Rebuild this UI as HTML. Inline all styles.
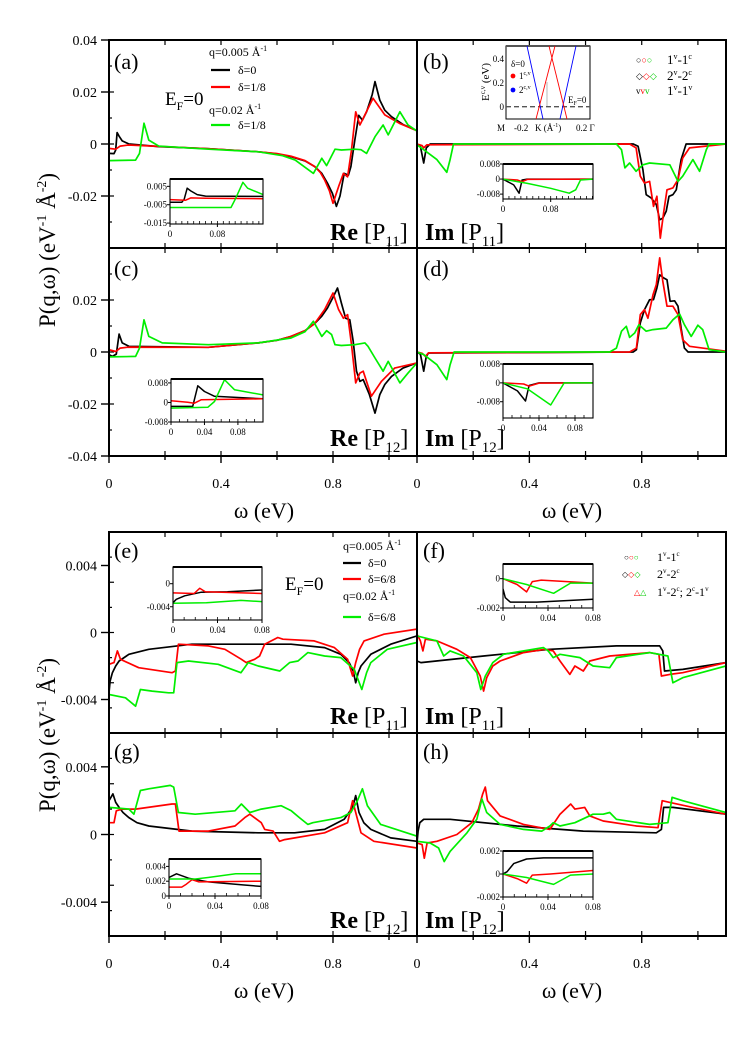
<!DOCTYPE html>
<html><head><meta charset="utf-8"><style>
html,body{margin:0;padding:0;background:#fff;}
svg{display:block;font-family:"Liberation Serif",serif;}
</style></head><body>
<svg id="fig" width="748" height="1057" viewBox="0 0 748 1057" xmlns="http://www.w3.org/2000/svg">
<rect x="0" y="0" width="748" height="1057" fill="#fff"/>
<g id="plots"></g>
<g id="static" fill="#000">
  <text transform="translate(55,250) rotate(-90)" text-anchor="middle" font-size="23">P(q,ω) (eV<tspan font-size="14" dy="-9">-1</tspan><tspan dy="9"> Å</tspan><tspan font-size="14" dy="-9">-2</tspan><tspan dy="9">)</tspan></text>
  <text transform="translate(55,735) rotate(-90)" text-anchor="middle" font-size="23">P(q,ω) (eV<tspan font-size="14" dy="-9">-1</tspan><tspan dy="9"> Å</tspan><tspan font-size="14" dy="-9">-2</tspan><tspan dy="9">)</tspan></text>
  <text x="264" y="518" text-anchor="middle" font-size="22">ω (eV)</text>
  <text x="572" y="518" text-anchor="middle" font-size="22">ω (eV)</text>
  <text x="264" y="998" text-anchor="middle" font-size="22">ω (eV)</text>
  <text x="572" y="998" text-anchor="middle" font-size="22">ω (eV)</text>

  <text x="114" y="69" font-size="22">(a)</text>
  <text x="423" y="69" font-size="22">(b)</text>
  <text x="114" y="276" font-size="22">(c)</text>
  <text x="423" y="276" font-size="22">(d)</text>
  <text x="114" y="558" font-size="22">(e)</text>
  <text x="423" y="558" font-size="22">(f)</text>
  <text x="114" y="759" font-size="22">(g)</text>
  <text x="423" y="759" font-size="22">(h)</text>

  <text x="165" y="105" font-size="19">E<tspan font-size="12" dy="5">F</tspan><tspan dy="-5">=0</tspan></text>
  <text x="285" y="590" font-size="19">E<tspan font-size="12" dy="5">F</tspan><tspan dy="-5">=0</tspan></text>

  <text x="330" y="240" font-size="24"><tspan font-weight="bold">Re</tspan> [P<tspan font-size="15" dy="6">11</tspan><tspan dy="-6">]</tspan></text>
  <text x="425" y="240" font-size="24"><tspan font-weight="bold">Im</tspan> [P<tspan font-size="15" dy="6">11</tspan><tspan dy="-6">]</tspan></text>
  <text x="330" y="446" font-size="24"><tspan font-weight="bold">Re</tspan> [P<tspan font-size="15" dy="6">12</tspan><tspan dy="-6">]</tspan></text>
  <text x="425" y="446" font-size="24"><tspan font-weight="bold">Im</tspan> [P<tspan font-size="15" dy="6">12</tspan><tspan dy="-6">]</tspan></text>
  <text x="330" y="724" font-size="24"><tspan font-weight="bold">Re</tspan> [P<tspan font-size="15" dy="6">11</tspan><tspan dy="-6">]</tspan></text>
  <text x="425" y="724" font-size="24"><tspan font-weight="bold">Im</tspan> [P<tspan font-size="15" dy="6">11</tspan><tspan dy="-6">]</tspan></text>
  <text x="330" y="928" font-size="24"><tspan font-weight="bold">Re</tspan> [P<tspan font-size="15" dy="6">12</tspan><tspan dy="-6">]</tspan></text>
  <text x="425" y="928" font-size="24"><tspan font-weight="bold">Im</tspan> [P<tspan font-size="15" dy="6">12</tspan><tspan dy="-6">]</tspan></text>

  <g font-size="12">
    <text x="209" y="56">q=0.005 Å<tspan font-size="8" dy="-5">-1</tspan></text>
    <line x1="211" y1="70" x2="230" y2="70" stroke="#000" stroke-width="2.2"/>
    <text x="238" y="74">δ=0</text>
    <line x1="211" y1="87" x2="230" y2="87" stroke="#f00" stroke-width="2.2"/>
    <text x="238" y="91">δ=1/8</text>
    <text x="209" y="114">q=0.02 Å<tspan font-size="8" dy="-5">-1</tspan></text>
    <line x1="211" y1="125" x2="230" y2="125" stroke="#0e0" stroke-width="2.2"/>
    <text x="238" y="129">δ=1/8</text>
  </g>
  <g font-size="12">
    <text x="343" y="550">q=0.005 Å<tspan font-size="8" dy="-5">-1</tspan></text>
    <line x1="343" y1="563" x2="361" y2="563" stroke="#000" stroke-width="2.2"/>
    <text x="368" y="567">δ=0</text>
    <line x1="343" y1="579" x2="361" y2="579" stroke="#f00" stroke-width="2.2"/>
    <text x="368" y="583">δ=6/8</text>
    <text x="343" y="600">q=0.02 Å<tspan font-size="8" dy="-5">-1</tspan></text>
    <line x1="343" y1="617" x2="361" y2="617" stroke="#0e0" stroke-width="2.2"/>
    <text x="368" y="621">δ=6/8</text>
  </g>
  <g font-size="13">
    <text x="636" y="63" font-size="9"><tspan fill="#000">○</tspan><tspan fill="#f00">○</tspan><tspan fill="#0c0">○</tspan></text>
    <text x="667" y="64">1<tspan font-size="8" dy="-5">v</tspan><tspan dy="5">-1</tspan><tspan font-size="8" dy="-5">c</tspan></text>
    <text x="636" y="79" font-size="9"><tspan fill="#000">◇</tspan><tspan fill="#f00">◇</tspan><tspan fill="#0c0">◇</tspan></text>
    <text x="667" y="80">2<tspan font-size="8" dy="-5">v</tspan><tspan dy="5">-2</tspan><tspan font-size="8" dy="-5">c</tspan></text>
    <text x="636" y="94" font-size="9"><tspan fill="#000">v</tspan><tspan fill="#f00">v</tspan><tspan fill="#0c0">v</tspan></text>
    <text x="667" y="95">1<tspan font-size="8" dy="-5">v</tspan><tspan dy="5">-1</tspan><tspan font-size="8" dy="-5">v</tspan></text>
  </g>
  <g font-size="12">
    <text x="624" y="560" font-size="8"><tspan fill="#000">○</tspan><tspan fill="#f00">○</tspan><tspan fill="#0c0">○</tspan></text>
    <text x="657" y="561">1<tspan font-size="7" dy="-5">v</tspan><tspan dy="5">-1</tspan><tspan font-size="7" dy="-5">c</tspan></text>
    <text x="622" y="577" font-size="8"><tspan fill="#000">◇</tspan><tspan fill="#f00">◇</tspan><tspan fill="#0c0">◇</tspan></text>
    <text x="657" y="578">2<tspan font-size="7" dy="-5">v</tspan><tspan dy="5">-2</tspan><tspan font-size="7" dy="-5">c</tspan></text>
    <text x="634" y="595" font-size="8"><tspan fill="#f00">△</tspan><tspan fill="#0c0">△</tspan></text>
    <text x="657" y="596">1<tspan font-size="7" dy="-5">v</tspan><tspan dy="5">-2</tspan><tspan font-size="7" dy="-5">c</tspan><tspan dy="5">; 2</tspan><tspan font-size="7" dy="-5">c</tspan><tspan dy="5">-1</tspan><tspan font-size="7" dy="-5">v</tspan></text>
  </g>
  <g>
    <rect x="506" y="46" width="84" height="73" fill="#fff" stroke="#000" stroke-width="1"/>
    <line x1="506" y1="46" x2="590" y2="46" stroke="#555" stroke-width="2"/>
    <line x1="506" y1="106.7" x2="590" y2="106.7" stroke="#555" stroke-width="1.4" stroke-dasharray="5,3"/>
    <line x1="527" y1="46" x2="543" y2="119" stroke="#00f" stroke-width="0.9"/>
    <line x1="560" y1="119" x2="576" y2="46" stroke="#00f" stroke-width="0.9"/>
    <line x1="536" y1="119" x2="555" y2="46" stroke="#f00" stroke-width="0.9"/>
    <line x1="549" y1="46" x2="567" y2="119" stroke="#f00" stroke-width="0.9"/>
    <line x1="547" y1="82" x2="547" y2="106" stroke="#888" stroke-width="0.6"/>
    <g font-size="9">
      <text x="504" y="62" text-anchor="end">0.4</text>
      <text x="504" y="86" text-anchor="end">0.2</text>
      <text x="504" y="110" text-anchor="end">0</text>
      <text x="497" y="131">M</text>
      <text x="514" y="131">-0.2</text>
      <text x="535" y="131">K (Å<tspan font-size="6" dy="-4">-1</tspan><tspan dy="4">)</tspan></text>
      <text x="576" y="131">0.2 Γ</text>
      <text x="511" y="67">δ=0</text>
      <circle cx="513" cy="76" r="2.4" fill="#f00"/>
      <text x="519" y="79">1<tspan font-size="6" dy="-4">c,v</tspan></text>
      <circle cx="513" cy="90" r="2.4" fill="#00f"/>
      <text x="519" y="93">2<tspan font-size="6" dy="-4">c,v</tspan></text>
      <text x="568" y="103">E<tspan font-size="6" dy="2">F</tspan><tspan dy="-2">=0</tspan></text>
    </g>
    <text transform="translate(489,82) rotate(-90)" text-anchor="middle" font-size="11">E<tspan font-size="7" dy="-4">c,v</tspan><tspan dy="4"> (eV)</tspan></text>
  </g>
</g>
</svg>
<script>
const aBlack=[[0,-0.0036],[0.018,-0.0037],[0.024,-0.0023],[0.029,0.0044],[0.036,0.0030],[0.047,0.0012],[0.071,0],[0.178,-0.001],[0.356,-0.0018],[0.534,-0.003],[0.6,-0.0038],[0.65,-0.0049],[0.7,-0.0065],[0.735,-0.0087],[0.76,-0.0113],[0.78,-0.015],[0.798,-0.019],[0.812,-0.024],[0.825,-0.02],[0.84,-0.0113],[0.855,-0.012],[0.864,-0.0087],[0.878,0.0015],[0.892,0.011],[0.905,0.0092],[0.92,0.0124],[0.94,0.019],[0.95,0.024],[0.967,0.0169],[0.985,0.013],[1.009,0.0105],[1.05,0.0075],[1.1,0.0051]];
const aRed=[[0,-0.0017],[0.024,-0.002],[0.04,-0.0008],[0.07,-0.0004],[0.356,-0.0018],[0.534,-0.003],[0.6,-0.0037],[0.65,-0.0047],[0.7,-0.0064],[0.735,-0.0087],[0.755,-0.011],[0.77,-0.0138],[0.787,-0.018],[0.8,-0.0228],[0.82,-0.0164],[0.837,-0.0113],[0.852,-0.0126],[0.866,-0.0023],[0.881,0.0124],[0.896,0.0073],[0.914,0.0112],[0.943,0.0176],[0.985,0.0112],[1.04,0.0078],[1.1,0.0051]];
const aGreen=[[0,-0.0064],[0.095,-0.0062],[0.109,-0.0036],[0.125,0.008],[0.142,0.0015],[0.178,-0.0008],[0.356,-0.002],[0.534,-0.003],[0.62,-0.0045],[0.665,-0.0062],[0.73,-0.0113],[0.76,-0.0055],[0.777,-0.0083],[0.807,-0.002],[0.83,-0.0023],[0.878,-0.002],[0.9,-0.0022],[0.92,-0.0036],[0.95,0.0028],[0.979,0.0073],[0.997,0.0035],[1.039,0.0124],[1.068,0.0073],[1.1,0.005]];
const bBlack=[[0,0],[0.012,-0.0009],[0.024,-0.0073],[0.033,-0.0015],[0.047,0],[0.77,0],[0.787,-0.0009],[0.804,-0.0099],[0.816,-0.0195],[0.834,-0.0208],[0.852,-0.0233],[0.864,-0.0291],[0.875,-0.0285],[0.887,-0.0259],[0.897,-0.0201],[0.911,-0.0195],[0.923,-0.0176],[0.94,-0.006],[0.958,0],[1.1,0]];
const bRed=[[0,0],[0.018,-0.0006],[0.024,-0.0015],[0.035,-0.0003],[0.757,0],[0.78,-0.0015],[0.795,-0.0124],[0.81,-0.015],[0.828,-0.0144],[0.842,-0.024],[0.854,-0.0201],[0.866,-0.0362],[0.878,-0.0265],[0.89,-0.0176],[0.911,-0.0169],[0.929,-0.0137],[0.946,-0.0054],[0.97,-0.0015],[1.1,0]];
const bGreen=[[0,-0.0003],[0.024,-0.0022],[0.071,-0.006],[0.106,-0.0109],[0.118,-0.006],[0.13,0],[0.71,0],[0.728,-0.0022],[0.74,-0.0092],[0.757,-0.0073],[0.78,-0.0105],[0.804,-0.008],[0.828,-0.0073],[0.9,-0.008],[0.929,-0.0144],[0.946,-0.0124],[0.982,-0.006],[1.006,-0.0105],[1.03,-0.0022],[1.04,0],[1.1,0]];
const cBlack=[[0,-0.001],[0.012,-0.0017],[0.026,-0.0008],[0.036,0.0069],[0.047,0.0035],[0.071,0.0022],[0.355,0.0018],[0.534,0.0035],[0.6,0.0045],[0.65,0.006],[0.7,0.0082],[0.735,0.011],[0.76,0.0138],[0.78,0.0169],[0.8,0.021],[0.816,0.0246],[0.83,0.0188],[0.845,0.013],[0.86,0.0124],[0.872,0.0041],[0.884,-0.0074],[0.896,-0.0113],[0.908,-0.0106],[0.93,-0.0164],[0.95,-0.0235],[0.967,-0.0164],[0.985,-0.0125],[1.009,-0.0094],[1.05,-0.0062],[1.1,-0.0042]];
const cRed=[[0,0.0009],[0.024,0.0002],[0.04,0.0015],[0.071,0.0019],[0.355,0.0018],[0.534,0.0035],[0.6,0.0045],[0.65,0.006],[0.7,0.0082],[0.735,0.011],[0.77,0.0163],[0.8,0.0227],[0.82,0.0163],[0.837,0.013],[0.852,0.0144],[0.866,0.0028],[0.881,-0.0119],[0.896,-0.0081],[0.908,-0.0074],[0.937,-0.017],[0.973,-0.0113],[1.02,-0.0062],[1.1,-0.0042]];
const cGreen=[[0,-0.0019],[0.095,-0.0017],[0.109,0.0015],[0.125,0.0124],[0.142,0.006],[0.19,0.0035],[0.355,0.0028],[0.534,0.0035],[0.65,0.0054],[0.7,0.0078],[0.73,0.0118],[0.76,0.006],[0.777,0.0082],[0.795,0.0067],[0.807,0.0028],[0.83,0.0025],[0.878,0.0028],[0.914,0.0035],[0.925,0.0022],[0.95,-0.0023],[0.979,-0.0074],[0.997,-0.0036],[1.039,-0.0119],[1.068,-0.0081],[1.1,-0.0042]];
const dBlack=[[0,0],[0.012,-0.0008],[0.024,-0.0074],[0.033,-0.0017],[0.041,-0.0004],[0.77,0],[0.781,0.0009],[0.795,0.0112],[0.81,0.0163],[0.828,0.0201],[0.842,0.0201],[0.854,0.0246],[0.864,0.0297],[0.878,0.0285],[0.89,0.0278],[0.901,0.0195],[0.917,0.0197],[0.929,0.0176],[0.94,0.0092],[0.952,0.0015],[0.965,0],[1.1,0]];
const dRed=[[0,0],[0.018,-0.0005],[0.03,-0.0017],[0.041,-0.0003],[0.757,0],[0.781,0.0015],[0.795,0.0144],[0.81,0.0163],[0.822,0.013],[0.84,0.022],[0.852,0.0259],[0.864,0.0362],[0.875,0.0272],[0.89,0.0176],[0.911,0.0176],[0.929,0.0144],[0.946,0.0047],[0.97,0.0022],[1.1,0.0003]];
const dGreen=[[0,0],[0.024,-0.001],[0.071,-0.0049],[0.106,-0.0106],[0.118,-0.0049],[0.132,0],[0.686,0],[0.71,0.0015],[0.728,0.008],[0.745,0.0099],[0.757,0.0056],[0.775,0.0073],[0.79,0.0105],[0.816,0.008],[0.84,0.0086],[0.887,0.0092],[0.911,0.0124],[0.935,0.0146],[0.952,0.0105],[0.976,0.006],[1.0,0.0103],[1.017,0.0086],[1.04,0.0009],[1.1,0]];
const eBlack=[[0,-0.0036],[0.004,-0.0029],[0.012,-0.0024],[0.024,-0.002],[0.036,-0.0017],[0.071,-0.0013],[0.142,-0.001],[0.296,-0.0007],[0.473,-0.0007],[0.65,-0.0007],[0.77,-0.0009],[0.828,-0.0013],[0.858,-0.0018],[0.872,-0.0023],[0.881,-0.003],[0.89,-0.0024],[0.9,-0.002],[0.935,-0.0013],[1.006,-0.0007],[1.1,-0.0002]];
const eRed=[[0,-0.0019],[0.018,-0.0018],[0.03,-0.0011],[0.041,-0.0016],[0.106,-0.0021],[0.225,-0.0024],[0.237,-0.0023],[0.248,-0.0007],[0.355,-0.0008],[0.414,-0.001],[0.473,-0.0016],[0.49,-0.0018],[0.52,-0.0016],[0.538,-0.0014],[0.556,-0.0007],[0.603,-0.0003],[0.621,-0.0004],[0.733,-0.0005],[0.805,-0.0009],[0.852,-0.0016],[0.87,-0.0026],[0.881,-0.0018],[0.895,-0.001],[0.911,-0.0005],[0.982,-0.0001],[1.1,0.0002]];
const eGreen=[[0,-0.0037],[0.059,-0.0039],[0.095,-0.0044],[0.112,-0.0034],[0.154,-0.0035],[0.213,-0.0036],[0.231,-0.0036],[0.243,-0.0018],[0.284,-0.0017],[0.39,-0.0019],[0.471,-0.0024],[0.497,-0.0018],[0.533,-0.002],[0.61,-0.0023],[0.645,-0.0018],[0.675,-0.0017],[0.71,-0.0012],[0.77,-0.0014],[0.828,-0.0015],[0.876,-0.0022],[0.903,-0.0034],[0.92,-0.0024],[0.935,-0.0018],[0.994,-0.001],[1.1,-0.0006]];
const fBlack=[[0,-0.0017],[0.014,-0.0018],[0.237,-0.0014],[0.473,-0.001],[0.71,-0.0008],[0.864,-0.0008],[0.875,-0.0011],[0.881,-0.0023],[0.946,-0.0022],[1.1,-0.0018]];
const fRed=[[0,-0.0001],[0.012,-0.0005],[0.021,-0.0011],[0.03,-0.0004],[0.071,-0.0005],[0.142,-0.001],[0.19,-0.0015],[0.225,-0.0026],[0.237,-0.0035],[0.248,-0.0027],[0.27,-0.002],[0.296,-0.0017],[0.379,-0.0012],[0.455,-0.001],[0.485,-0.0011],[0.509,-0.0017],[0.544,-0.0025],[0.562,-0.002],[0.592,-0.0023],[0.615,-0.0017],[0.686,-0.0014],[0.828,-0.0012],[0.861,-0.0013],[0.87,-0.0026],[0.9,-0.0025],[0.946,-0.0024],[1.1,-0.0018]];
const fGreen=[[0,-0.0002],[0.071,-0.0005],[0.095,-0.0014],[0.118,-0.0011],[0.166,-0.0014],[0.213,-0.0024],[0.227,-0.0034],[0.243,-0.0026],[0.27,-0.0018],[0.308,-0.0013],[0.45,-0.0009],[0.467,-0.0011],[0.485,-0.0015],[0.509,-0.0013],[0.58,-0.0015],[0.627,-0.002],[0.686,-0.0021],[0.71,-0.0015],[0.828,-0.0012],[0.893,-0.0014],[0.911,-0.003],[0.946,-0.0027],[1.1,-0.002]];
const gBlack=[[0,0.002],[0.014,0.0024],[0.024,0.0019],[0.036,0.0016],[0.05,0.0013],[0.071,0.001],[0.1,0.0007],[0.142,0.0005],[0.296,0.0002],[0.533,0.0001],[0.663,0.0001],[0.77,0.0003],[0.84,0.0009],[0.87,0.0016],[0.881,0.0023],[0.893,0.0013],[0.91,0.0007],[0.935,0.0003],[1.006,-0.0002],[1.1,-0.0004]];
const gRed=[[0,0.0007],[0.018,0.0007],[0.026,0.0014],[0.047,0.0015],[0.095,0.0015],[0.225,0.0018],[0.237,0.0018],[0.25,0.0002],[0.355,0.0002],[0.45,0.0005],[0.485,0.001],[0.503,0.0012],[0.544,0.0007],[0.556,0.0003],[0.586,0.0002],[0.609,-0.0004],[0.627,-0.0003],[0.77,0.0001],[0.852,0.0007],[0.87,0.002],[0.881,0.0013],[0.9,0.0001],[0.946,-0.0004],[1.1,-0.0008]];
const gGreen=[[0,0.0016],[0.071,0.0015],[0.089,0.0012],[0.112,0.0026],[0.142,0.0027],[0.219,0.0029],[0.231,0.0028],[0.248,0.0013],[0.308,0.0012],[0.45,0.0014],[0.473,0.0018],[0.503,0.0013],[0.544,0.0015],[0.615,0.0017],[0.651,0.0014],[0.68,0.001],[0.71,0.0006],[0.728,0.0007],[0.828,0.001],[0.864,0.0013],[0.887,0.002],[0.905,0.0027],[0.923,0.0017],[0.97,0.0006],[1.1,-0.0001]];
const hBlack=[[0,-0.0005],[0.004,0.0002],[0.01,0.0007],[0.024,0.0009],[0.047,0.0009],[0.118,0.0009],[0.355,0.0005],[0.592,0.0002],[0.852,0.0001],[0.87,0.0003],[0.878,0.0016],[0.911,0.0016],[1.1,0.0012]];
const hRed=[[0,-0.0005],[0.018,-0.0006],[0.026,-0.0014],[0.036,-0.0005],[0.071,-0.0004],[0.142,0],[0.195,0.0007],[0.219,0.0015],[0.234,0.0024],[0.243,0.0028],[0.251,0.002],[0.296,0.0011],[0.379,0.0006],[0.473,0.0003],[0.509,0.0012],[0.547,0.0018],[0.562,0.0015],[0.597,0.0016],[0.615,0.0011],[0.663,0.0008],[0.781,0.0005],[0.858,0.0004],[0.873,0.002],[0.9,0.0019],[0.982,0.0016],[1.1,0.0012]];
const hGreen=[[0,-0.0004],[0.047,-0.0005],[0.077,-0.0008],[0.097,-0.0016],[0.118,-0.001],[0.178,0.0001],[0.213,0.0009],[0.231,0.0021],[0.248,0.0013],[0.296,0.0006],[0.379,0.0003],[0.444,0.0002],[0.473,0.0005],[0.485,0.0007],[0.509,0.0005],[0.562,0.0007],[0.627,0.0012],[0.663,0.0012],[0.686,0.0013],[0.71,0.0009],[0.828,0.0006],[0.893,0.0007],[0.908,0.0022],[0.946,0.002],[1.1,0.0013]];
const aInBlack=[[0,-0.0037],[0.02,-0.0037],[0.024,-0.002],[0.029,0.004],[0.035,0.0025],[0.046,0.0005],[0.06,-0.0003],[0.157,-0.0005]];
const aInRed=[[0,-0.0022],[0.026,-0.0026],[0.035,-0.0013],[0.06,-0.0015],[0.157,-0.0017]];
const aInGreen=[[0,-0.0065],[0.103,-0.0065],[0.111,-0.0014],[0.123,0.0072],[0.131,0.004],[0.157,0.0005]];
const bInBlack=[[0,0],[0.018,-0.0031],[0.027,-0.0075],[0.032,-0.0005],[0.041,0],[0.151,0]];
const bInRed=[[0,0],[0.024,-0.0005],[0.032,-0.0014],[0.041,-0.0002],[0.151,0]];
const bInGreen=[[0,0],[0.041,-0.0023],[0.08,-0.0049],[0.111,-0.0075],[0.122,-0.0057],[0.13,-0.0005],[0.151,0]];
const cInBlack=[[0,-0.0016],[0.026,-0.0016],[0.032,0.0068],[0.04,0.0045],[0.052,0.0025],[0.11,0.0015]];
const cInRed=[[0,0.0007],[0.02,0.0001],[0.028,-0.0003],[0.036,0.0011],[0.11,0.0015]];
const cInGreen=[[0,-0.0023],[0.044,-0.002],[0.052,0.0004],[0.064,0.0093],[0.076,0.0052],[0.11,0.0031]];
const dInBlack=[[0,0],[0.016,-0.0034],[0.025,-0.0077],[0.029,-0.0011],[0.04,0],[0.1,0]];
const dInRed=[[0,0],[0.023,-0.0005],[0.029,-0.0014],[0.04,-0.0001],[0.1,0]];
const dInGreen=[[0,0],[0.027,-0.0025],[0.053,-0.0094],[0.068,0],[0.1,0]];
const eInBlack=[[0,-0.0033],[0.003,-0.0027],[0.0105,-0.0021],[0.025,-0.0015],[0.049,-0.0014],[0.08,-0.0011]];
const eInRed=[[0,-0.0016],[0.019,-0.0017],[0.024,-0.0008],[0.029,-0.0014],[0.08,-0.0017]];
const eInGreen=[[0,-0.0034],[0.03,-0.0033],[0.061,-0.0029],[0.08,-0.0031]];
const fInBlack=[[0,-0.0007],[0.002,-0.0013],[0.0065,-0.0016],[0.03,-0.0016],[0.08,-0.0014]];
const fInRed=[[0,0],[0.0125,-0.0004],[0.021,-0.0009],[0.026,-0.0002],[0.034,-0.0001],[0.08,-0.0003]];
const fInGreen=[[0,0],[0.021,-0.0004],[0.045,-0.001],[0.06,-0.0003],[0.08,-0.0003]];
const gInBlack=[[0,0.0025],[0.0065,0.003],[0.017,0.0024],[0.034,0.0019],[0.064,0.0015],[0.08,0.0013]];
const gInRed=[[0,0.0012],[0.011,0.0012],[0.015,0.0016],[0.02,0.0022],[0.026,0.0019],[0.08,0.002]];
const gInGreen=[[0,0.0023],[0.023,0.0023],[0.034,0.0025],[0.058,0.003],[0.08,0.003]];
const hInBlack=[[0,0],[0.0036,0.0002],[0.0095,0.0009],[0.021,0.0013],[0.036,0.0014],[0.08,0.0014]];
const hInRed=[[0,0],[0.0125,-0.0004],[0.021,-0.0008],[0.026,-0.0001],[0.042,0],[0.08,0.0003]];
const hInGreen=[[0,0],[0.021,-0.0003],[0.045,-0.0009],[0.06,-0.0001],[0.08,0]];
const topYTicksA=["0.04","0.02","0","-0.02"];
const topYTickValsA=[0.04,0.02,0,-0.02];
const topYTicksC=["0.02","0","-0.02","-0.04"];
const topYTickValsC=[0.02,0,-0.02,-0.04];
const botYTicks=["0.004","0","-0.004"];
const botYTickVals=[0.004,0,-0.004];
const xTickLabels=["0","0.4","0.8"];
const xTickVals=[0,0.4,0.8];

const NS="http://www.w3.org/2000/svg";
const root=document.getElementById('plots');
const COL={black:"#000",red:"#f00",green:"#0e0"};
function el(tag,attrs,parent){const e=document.createElementNS(NS,tag);for(const k in attrs)e.setAttribute(k,attrs[k]);(parent||root).appendChild(e);return e;}
function scaleX(x0,x1,d0,d1){return v=>x0+(v-d0)/(d1-d0)*(x1-x0);}
function scaleY(y0,y1,vmax,vmin){return v=>y0+(vmax-v)/(vmax-vmin)*(y1-y0);}
let clipN=0;
function drawSeries(g,data,sx,sy,color,w,clipId,name){
  const d=data.map((p,i)=>(i?'L':'M')+sx(p[0]).toFixed(1)+','+sy(p[1]).toFixed(1)).join('');
  const p=el('path',{d:d,fill:'none',stroke:color,'stroke-width':w,'stroke-linejoin':'round','clip-path':'url(#'+clipId+')'},g);
  
  
}
function makeClip(x,y,w,h){const id='clip'+(clipN++);const cp=el('clipPath',{id:id});el('rect',{x:x,y:y,width:w,height:h},cp);return id;}

const panels=[
 {k:'a',x0:109,x1:417,y0:40,y1:248,vmax:0.04,vmin:-0.04,s:[aBlack,aRed,aGreen]},
 {k:'b',x0:417,x1:726,y0:40,y1:248,vmax:0.04,vmin:-0.04,s:[bBlack,bRed,bGreen]},
 {k:'c',x0:109,x1:417,y0:248,y1:456,vmax:0.04,vmin:-0.04,s:[cBlack,cRed,cGreen]},
 {k:'d',x0:417,x1:726,y0:248,y1:456,vmax:0.04,vmin:-0.04,s:[dBlack,dRed,dGreen]},
 {k:'e',x0:109,x1:417,y0:532,y1:733,vmax:0.006,vmin:-0.006,s:[eBlack,eRed,eGreen]},
 {k:'f',x0:417,x1:726,y0:532,y1:733,vmax:0.006,vmin:-0.006,s:[fBlack,fRed,fGreen]},
 {k:'g',x0:109,x1:417,y0:733,y1:936,vmax:0.006,vmin:-0.006,s:[gBlack,gRed,gGreen]},
 {k:'h',x0:417,x1:726,y0:733,y1:936,vmax:0.006,vmin:-0.006,s:[hBlack,hRed,hGreen]}
];
const insets=[
 {k:'a',x0:170,x1:263,y0:179,y1:224,dmax:0.157,vmax:0.009,vmin:-0.0155,yl:["0.005","-0.005","-0.015"],yv:[0.005,-0.005,-0.015],xl:["0","0.08"],xv:[0,0.08],s:[aInBlack,aInRed,aInGreen]},
 {k:'b',x0:503,x1:593,y0:164,y1:199,dmax:0.151,vmax:0.008,vmin:-0.0106,yl:["0.008","0","-0.008"],yv:[0.008,0,-0.008],xl:["0","0.08"],xv:[0,0.08],s:[bInBlack,bInRed,bInGreen]},
 {k:'c',x0:171,x1:263,y0:379,y1:422,dmax:0.11,vmax:0.0096,vmin:-0.008,yl:["0.008","0","-0.008"],yv:[0.008,0,-0.008],xl:["0","0.04","0.08"],xv:[0,0.04,0.08],s:[cInBlack,cInRed,cInGreen]},
 {k:'d',x0:503,x1:593,y0:364,y1:418,dmax:0.1,vmax:0.008,vmin:-0.0149,yl:["0.008","0","-0.008"],yv:[0.008,0,-0.008],xl:["0","0.04","0.08"],xv:[0,0.04,0.08],s:[dInBlack,dInRed,dInGreen]},
 {k:'e',x0:173,x1:262,y0:567,y1:620,dmax:0.08,vmax:0.0029,vmin:-0.0063,yl:["0","-0.004"],yv:[0,-0.004],xl:["0","0.04","0.08"],xv:[0,0.04,0.08],s:[eInBlack,eInRed,eInGreen]},
 {k:'f',x0:503,x1:593,y0:564,y1:608,dmax:0.08,vmax:0.001,vmin:-0.002,yl:["0","-0.002"],yv:[0,-0.002],xl:["0","0.04","0.08"],xv:[0,0.04,0.08],s:[fInBlack,fInRed,fInGreen]},
 {k:'g',x0:169,x1:261,y0:859,y1:896,dmax:0.08,vmax:0.005,vmin:0,yl:["0.004","0.002","0"],yv:[0.004,0.002,0],xl:["0","0.04","0.08"],xv:[0,0.04,0.08],s:[gInBlack,gInRed,gInGreen]},
 {k:'h',x0:503,x1:593,y0:851,y1:897,dmax:0.08,vmax:0.002,vmin:-0.002,yl:["0.002","0","-0.002"],yv:[0.002,0,-0.002],xl:["0","0.04","0.08"],xv:[0,0.04,0.08],s:[hInBlack,hInRed,hInGreen]}
];
const colors=['black','red','green'];

panels.forEach(P=>{
  const g=el('g',{});
  
  
  const sx=scaleX(P.x0,P.x1,0,1.1), sy=scaleY(P.y0,P.y1,P.vmax,P.vmin);
  const cid=makeClip(P.x0,P.y0,P.x1-P.x0,P.y1-P.y0);
  for(let w=0.2;w<1.1;w+=0.2){
    const x=sx(w);
    el('line',{x1:x,y1:P.y1,x2:x,y2:P.y1-5,stroke:'#000','stroke-width':1.2},g);
    el('line',{x1:x,y1:P.y0,x2:x,y2:P.y0+5,stroke:'#000','stroke-width':1.2},g);
  }
  const step=P.vmax/4;
  for(let i=-3;i<=3;i++){
    const y=sy(i*step);
    if(P.x0<400) el('line',{x1:P.x0,y1:y,x2:P.x0+(i%2?3:5),y2:y,stroke:'#000','stroke-width':1.2},g);
  }
  P.s.forEach((data,i)=>{
    drawSeries(g,data,sx,sy,COL[colors[i]],1.7,cid,'series-'+P.k+'-'+colors[i]);
  });
});

function frameRect(x,y,w,h,name){const r=el('rect',{x:x,y:y,width:w,height:h,fill:'none',stroke:'#000','stroke-width':2});
 
 }
frameRect(109,40,617,416,'frame-top');
frameRect(109,532,617,404,'frame-bottom');
[[417,40,417,456],[109,248,726,248],[417,532,417,936],[109,733,726,733]].forEach(L=>{
  const l=el('line',{x1:L[0],y1:L[1],x2:L[2],y2:L[3],stroke:'#000','stroke-width':2});
  
  
});

function txt(x,y,s,anchor,size,name){const t=el('text',{x:x,y:y,'text-anchor':anchor,'font-size':size,fill:'#000'});t.textContent=s;
 
 return t;}
const syTopA=scaleY(40,248,0.04,-0.04), syTopC=scaleY(248,456,0.04,-0.04);
topYTickValsA.forEach((v,i)=>{const y=syTopA(v);el('line',{x1:101,y1:y,x2:109,y2:y,stroke:'#000','stroke-width':1.4});txt(97,y+5,topYTicksA[i],'end',14,'y-tick-label-a');});
topYTickValsC.forEach((v,i)=>{const y=syTopC(v);el('line',{x1:101,y1:y,x2:109,y2:y,stroke:'#000','stroke-width':1.4});txt(97,y+5,topYTicksC[i],'end',14,'y-tick-label-c');});
const syE=scaleY(532,733,0.006,-0.006), syG=scaleY(733,936,0.006,-0.006);
botYTickVals.forEach((v,i)=>{let y=syE(v);el('line',{x1:101,y1:y,x2:109,y2:y,stroke:'#000','stroke-width':1.4});txt(97,y+5,botYTicks[i],'end',14,'y-tick-label-e');
 y=syG(v);el('line',{x1:101,y1:y,x2:109,y2:y,stroke:'#000','stroke-width':1.4});txt(97,y+5,botYTicks[i],'end',14,'y-tick-label-g');});
[[109,417,456,488],[417,726,456,488],[109,417,936,968],[417,726,936,968]].forEach(A=>{
  const sx=scaleX(A[0],A[1],0,1.1);
  for(let k=1;k<=5;k++){const x=sx(k*0.2);el('line',{x1:x,y1:A[2],x2:x,y2:A[2]+(k%2?4:7),stroke:'#000','stroke-width':1.4});}
  el('line',{x1:sx(0),y1:A[2],x2:sx(0),y2:A[2]+7,stroke:'#000','stroke-width':1.4});
  xTickVals.forEach((v,i)=>txt(sx(v),A[3],xTickLabels[i],'middle',14,'x-tick-label'));
});

insets.forEach(I=>{
  const g=el('g',{});
  
  
  el('rect',{x:I.x0,y:I.y0,width:I.x1-I.x0,height:I.y1-I.y0,fill:'#fff',stroke:'none'},g);
  const sx=scaleX(I.x0,I.x1,0,I.dmax), sy=scaleY(I.y0,I.y1,I.vmax,I.vmin);
  const cid=makeClip(I.x0,I.y0,I.x1-I.x0,I.y1-I.y0);
  I.s.forEach((data,i)=>{
    drawSeries(g,data,sx,sy,COL[colors[i]],1.5,cid,'inset-series-'+I.k+'-'+colors[i]);
  });
  el('rect',{x:I.x0,y:I.y0,width:I.x1-I.x0,height:I.y1-I.y0,fill:'none',stroke:'#000','stroke-width':1.1},g);
  el('line',{x1:I.x0,y1:I.y0,x2:I.x1,y2:I.y0,stroke:'#000','stroke-width':2},g);
  I.yv.forEach((v,i)=>{const y=sy(v);el('line',{x1:I.x0-3,y1:y,x2:I.x0,y2:y,stroke:'#000','stroke-width':1},g);
    const t=el('text',{x:I.x0-3,y:y+3,'text-anchor':'end','font-size':9,fill:'#000'},g);t.textContent=I.yl[i];
    
    });
  for(let w=0.01;w<I.dmax;w+=0.01){const x=sx(w);el('line',{x1:x,y1:I.y1,x2:x,y2:I.y1-3,stroke:'#000','stroke-width':0.8},g);}
  I.xv.forEach((v,i)=>{const x=sx(v);el('line',{x1:x,y1:I.y1,x2:x,y2:I.y1+3,stroke:'#000','stroke-width':1},g);
    const t=el('text',{x:x,y:I.y1+13,'text-anchor':'middle','font-size':9,fill:'#000'},g);t.textContent=I.xl[i];
    
    });
});
document.getElementById('fig').appendChild(document.getElementById('static'));
</script>
</body></html>
